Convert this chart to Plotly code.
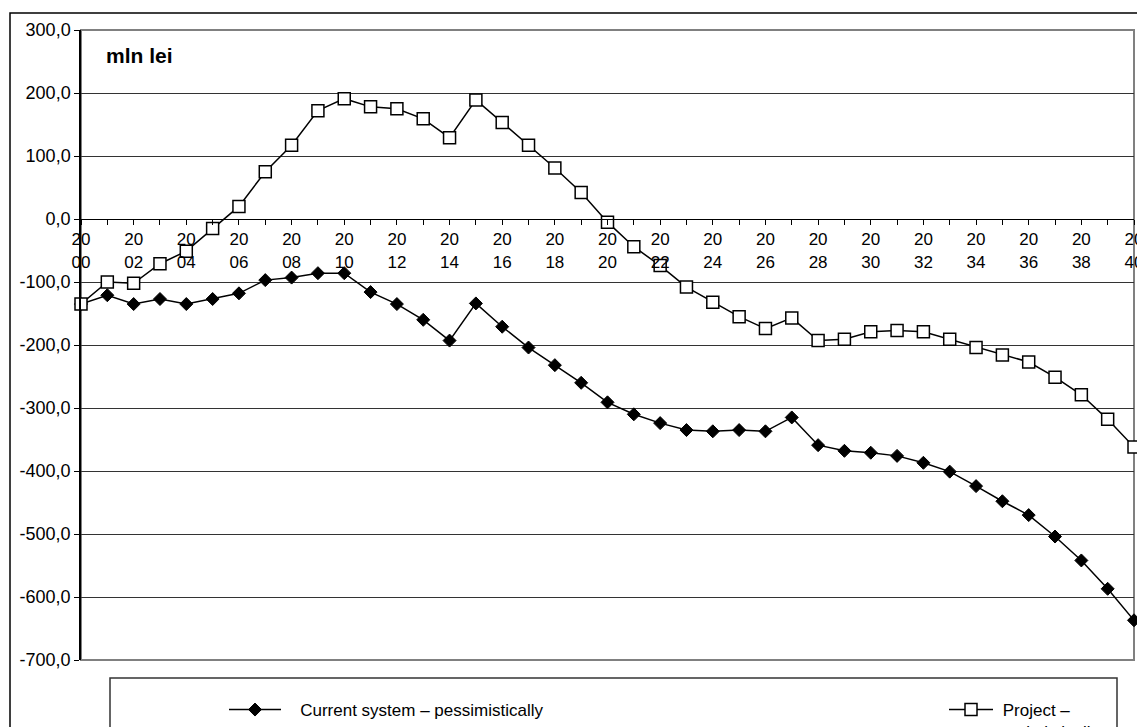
import plotly.graph_objects as go

years = list(range(2000, 2041))

current_pessimistic = [
    -135, -121, -135, -127, -135, -127, -118, -97, -93, -86,
    -86, -116, -135, -160, -193, -134, -171, -204, -232, -260,
    -291, -310, -324, -335, -337, -335, -337, -315, -359, -368,
    -371, -376, -387, -401, -424, -448, -470, -504, -542, -587,
    -637,
]

project_optimistic = [
    -135, -100, -102, -71, -51, -15, 20, 75, 117, 172,
    191, 178, 175, 159, 129, 189, 153, 117, 81, 42,
    -5, -44, -74, -108, -132, -155, -174, -157, -193, -191,
    -179, -177, -179, -191, -204, -216, -227, -251, -279, -318,
    -362,
]

y_tickvals = [300, 200, 100, 0, -100, -200, -300, -400, -500, -600, -700]
y_ticktext = ["300,0", "200,0", "100,0", "0,0", "-100,0", "-200,0", "-300,0",
              "-400,0", "-500,0", "-600,0", "-700,0"]

x_ticktext = [("20<br>%02d" % (y - 2000)) if (y % 2 == 0) else "" for y in years]

NB = "\u00a0"
series_names = [NB * 3 + "Current system – pessimistically", NB + "Project –<br>" + NB + "optimistically"]

FONT = "Liberation Sans, Arial, sans-serif"

fig = go.Figure()
fig.add_trace(go.Scatter(
    x=years, y=current_pessimistic, mode="lines+markers", name=series_names[0],
    line=dict(color="black", width=1.5),
    marker=dict(symbol="diamond", size=10, color="black", line=dict(color="black", width=1)),
    cliponaxis=False, legend="legend",
))
fig.add_trace(go.Scatter(
    x=years, y=project_optimistic, mode="lines+markers", name=series_names[1],
    line=dict(color="black", width=1.5),
    marker=dict(symbol="square", size=12, color="white", line=dict(color="black", width=1.5)),
    cliponaxis=False, legend="legend2",
))

W, H = 1137, 727
L, R, T, B = 81, 3, 30, 67
pw, ph = W - L - R, H - T - B


def px_x(p):
    return (p - L) / pw


def px_y(p):
    return (H - B - p) / ph


shapes = [
    dict(type="rect", xref="paper", yref="paper", x0=px_x(10), x1=px_x(1200),
         y0=px_y(800), y1=px_y(13), line=dict(color="black", width=1.5), layer="below"),
    dict(type="rect", xref="paper", yref="paper", x0=0, x1=1, y0=0, y1=1,
         line=dict(color="#808080", width=2), layer="below"),
    dict(type="rect", xref="paper", yref="paper", x0=px_x(110), x1=px_x(1117),
         y0=px_y(800), y1=px_y(678), line=dict(color="#333", width=1.5), layer="below"),
]

fig.update_layout(
    width=W, height=H,
    margin=dict(l=L, r=R, t=T, b=B, pad=0, autoexpand=False),
    paper_bgcolor="white", plot_bgcolor="white",
    font=dict(family=FONT, size=17, color="black"),
    shapes=shapes,
    showlegend=True,
    legend=dict(x=px_x(224), y=px_y(692), xanchor="left", yanchor="top",
                bgcolor="rgba(0,0,0,0)", font=dict(size=17), itemwidth=52,
                valign="top"),
    legend2=dict(x=px_x(944), y=px_y(692), xanchor="left", yanchor="top",
                 bgcolor="rgba(0,0,0,0)", font=dict(size=17), itemwidth=44,
                 valign="top"),
    annotations=[dict(text="<b>mln lei</b>", xref="paper", yref="paper",
                      x=px_x(104), y=px_y(56), xanchor="left", yanchor="middle",
                      showarrow=False, font=dict(size=21))],
)

fig.update_xaxes(
    range=[2000, 2040], tickmode="array", tickvals=years, ticktext=x_ticktext,
    anchor="free", position=0.7, showline=True, linecolor="black", linewidth=1,
    ticks="outside", ticklen=5, tickcolor="black", showgrid=False, zeroline=False,
    tickfont=dict(size=17), tickangle=0, ticklabeloverflow="allow",
)
fig.update_yaxes(
    range=[-700, 300], tickmode="array", tickvals=y_tickvals, ticktext=y_ticktext,
    showline=True, linecolor="black", linewidth=1.5, ticks="outside", ticklen=5,
    tickcolor="black", showgrid=True, gridcolor="#333", gridwidth=1, zeroline=False,
    tickfont=dict(size=18),
)

fig.write_html("out.html", config={"displayModeBar": False},
               post_script="document.body.style.margin='0';document.body.style.overflow='hidden';")
